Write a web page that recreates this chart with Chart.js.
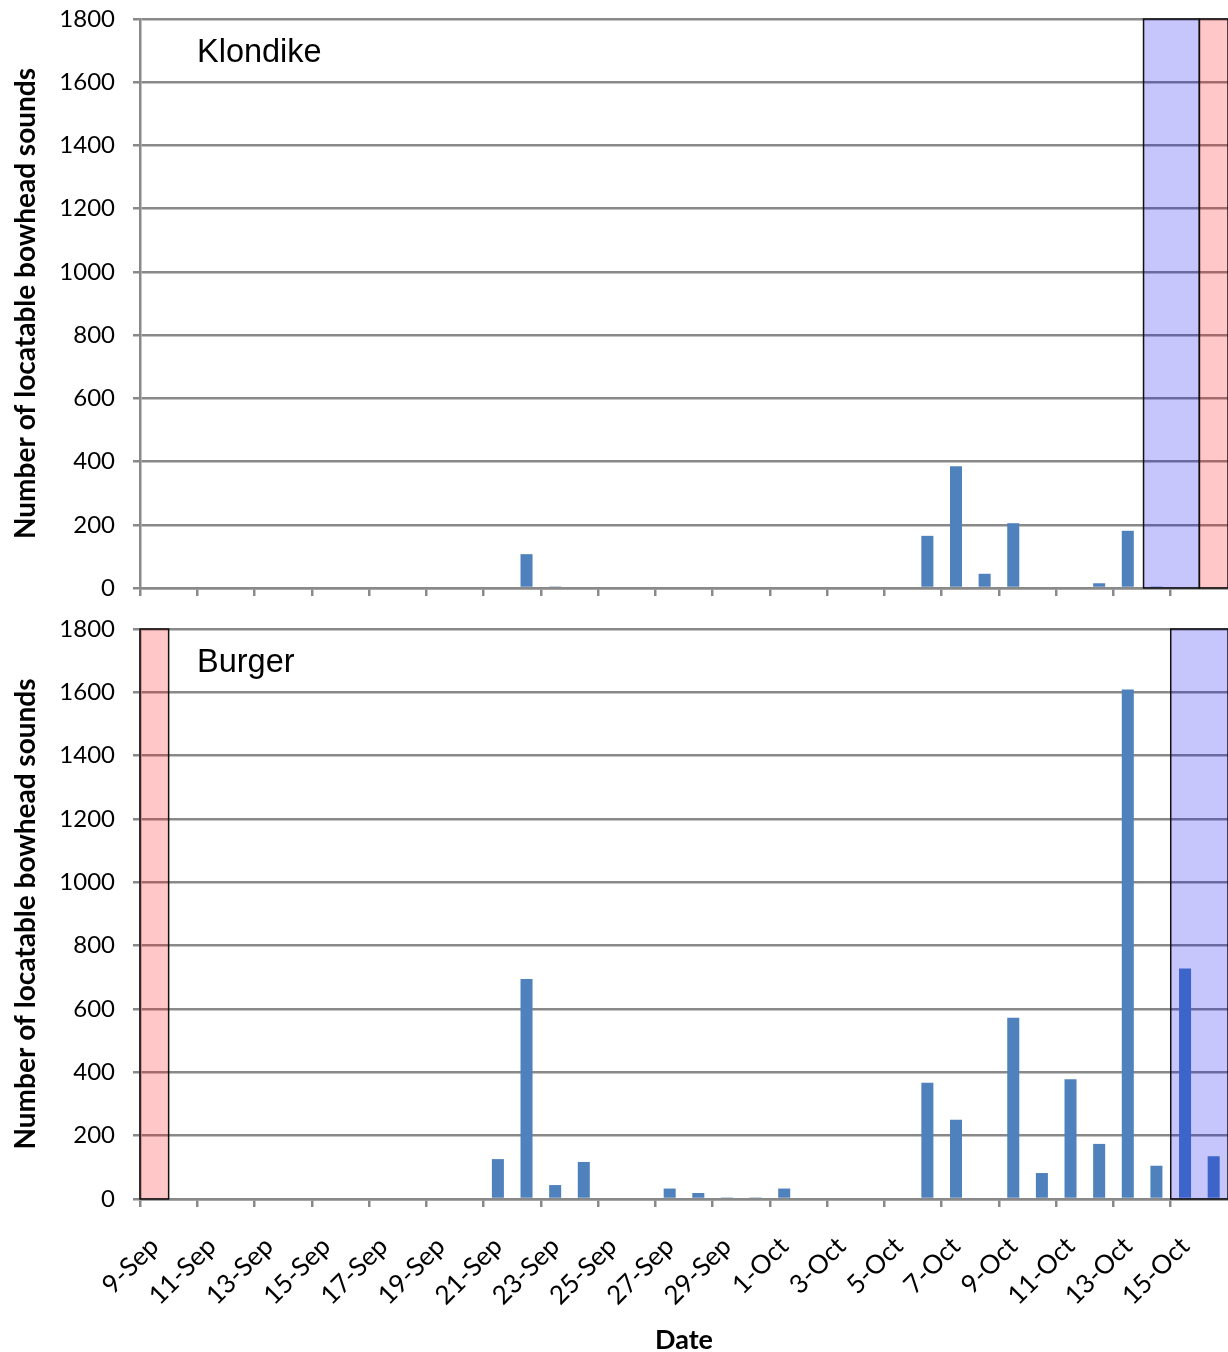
<!DOCTYPE html>
<html>
<head>
<meta charset="utf-8">
<title>Locatable bowhead sounds</title>
<script src="https://cdn.jsdelivr.net/npm/chart.js@4.4.0/dist/chart.umd.min.js"></script>
<style>
  html, body { margin: 0; padding: 0; background: #fff; }
  body { width: 1228px; height: 1352px; position: relative; overflow: hidden; }
  .panel { position: absolute; left: 0; }
</style>
</head>
<body>
<div class="panel" style="top:0"><canvas id="klondike-chart" width="1228" height="600"></canvas></div>
<div class="panel" style="top:600px"><canvas id="burger-chart" width="1228" height="752"></canvas></div>
<script>
// Days on the x axis (one bar slot per day)
const dateLabels = [
  '9-Sep', '10-Sep', '11-Sep', '12-Sep', '13-Sep', '14-Sep', '15-Sep', '16-Sep',
  '17-Sep', '18-Sep', '19-Sep', '20-Sep', '21-Sep', '22-Sep', '23-Sep', '24-Sep',
  '25-Sep', '26-Sep', '27-Sep', '28-Sep', '29-Sep', '30-Sep', '1-Oct', '2-Oct',
  '3-Oct', '4-Oct', '5-Oct', '6-Oct', '7-Oct', '8-Oct', '9-Oct', '10-Oct',
  '11-Oct', '12-Oct', '13-Oct', '14-Oct', '15-Oct', '16-Oct'
];

// Daily counts
const klondikeCounts = [
  0, 0, 0, 0, 0, 0, 0, 0,
  0, 0, 0, 0, 0, 107, 5, 0,
  0, 0, 0, 0, 0, 0, 0, 0,
  0, 0, 0, 165, 385, 45, 205, 0,
  0, 15, 181, 5, 0, 0
];
const burgerCounts = [
  0, 0, 0, 0, 0, 0, 0, 0,
  0, 0, 0, 0, 126, 695, 44, 117,
  0, 0, 33, 19, 5, 5, 33, 0,
  0, 0, 0, 367, 250, 0, 572, 82,
  378, 174, 1609, 105, 728, 135
];

const yTickValues = [0, 200, 400, 600, 800, 1000, 1200, 1400, 1600, 1800];

// Shaded periods
const klondikeBlueDays = ['14-Oct', '15-Oct'];
const klondikeRedDays = ['16-Oct'];
const burgerRedDays = ['9-Sep'];
const burgerBlueDays = ['15-Oct', '16-Oct'];

const gridGray = '#898989';
const blueShade = 'rgba(0, 0, 246, 0.224)';
const redShade = 'rgba(255, 0, 0, 0.22)';
const fontFamily = 'Lato, "Open Sans", sans-serif';

// Shaded bands + station name inside the plot (one plugin per chart)
function shadePlugin(name, bands) {
  return {
    id: 'shade',
    afterDatasetsDraw(chart) {
      const { ctx, chartArea } = chart;
      const x = chart.scales.x;
      const h = chartArea.bottom - chartArea.top;
      ctx.save();
      bands.forEach(band => {
        const idx = band.days.map(d => dateLabels.indexOf(d));
        const left = x.getPixelForValue(Math.min(...idx) - 0.5 + band.lead);
        const right = x.getPixelForValue(Math.max(...idx) + 0.5);
        ctx.fillStyle = band.fill;
        ctx.fillRect(left, chartArea.top, right - left, h);
        ctx.strokeStyle = '#111';
        ctx.lineWidth = 1.5;
        ctx.strokeRect(left, chartArea.top, right - left, h);
      });
      ctx.font = '32.5px "Liberation Sans", Arial, sans-serif';
      ctx.fillStyle = '#000';
      ctx.textBaseline = 'alphabetic';
      ctx.fillText(name, chartArea.left + 57, chartArea.top + 43);
      ctx.restore();
    }
  };
}

function makeChart(canvasId, name, counts, bands, isBottom) {
  const ctx = document.getElementById(canvasId).getContext('2d');
  return new Chart(ctx, {
    type: 'bar',
    data: {
      labels: dateLabels,
      datasets: [{
        data: counts,
        backgroundColor: '#4f81bd',
        borderWidth: 0,
        barPercentage: 0.42,
        categoryPercentage: 1
      }]
    },
    options: {
      responsive: false,
      animation: false,
      layout: { padding: { top: isBottom ? 29 : 19, right: 0, bottom: 0, left: 0 } },
      plugins: {
        legend: { display: false },
        tooltip: { enabled: false }
      },
      scales: {
        x: {
          offset: true,
          grid: {
            offset: true,
            drawOnChartArea: false,
            drawTicks: true,
            tickLength: 8,
            lineWidth: 2.5,
            color: c => (c.index % 2 === 0 ? gridGray : 'rgba(0,0,0,0)')
          },
          border: { display: true, color: gridGray, width: 2.5 },
          ticks: {
            display: isBottom,
            autoSkip: false,
            minRotation: 45,
            maxRotation: 45,
            padding: 24,
            color: '#000',
            font: { family: fontFamily, size: 26 },
            callback: (v, i) => (i % 2 === 0 ? dateLabels[i] : '')
          },
          title: {
            display: isBottom,
            text: 'Date',
            color: '#000',
            font: { family: fontFamily, size: 27, weight: 'bold', lineHeight: 0.9 },
            padding: 0
          },
          afterFit: s => {
            s.height = isBottom ? 153 : 12;
            s.paddingLeft = 0;
            s.paddingRight = 0;
          }
        },
        y: {
          min: 0,
          max: 1800,
          afterBuildTicks: s => { s.ticks = yTickValues.map(value => ({ value })); },
          grid: { color: gridGray, lineWidth: 2.5, tickLength: 7, drawTicks: true },
          border: { display: true, color: gridGray, width: 2.5 },
          ticks: {
            padding: 18,
            color: '#000',
            font: { family: fontFamily, size: 24 },
            callback: v => String(v)
          },
          title: {
            display: true,
            text: 'Number of locatable bowhead sounds',
            color: '#000',
            font: { family: fontFamily, size: 28, weight: 'bold' },
            padding: { top: 9, bottom: 0 }
          },
          afterFit: s => {
            s.width = 140;
            s.paddingTop = 0;
            s.paddingBottom = 0;
          }
        }
      }
    },
    plugins: [shadePlugin(name, bands)]
  });
}

makeChart('klondike-chart', 'Klondike', klondikeCounts, [
  { days: klondikeBlueDays, fill: blueShade, lead: 0.05 },
  { days: klondikeRedDays, fill: redShade, lead: 0 }
], false);

makeChart('burger-chart', 'Burger', burgerCounts, [
  { days: burgerRedDays, fill: redShade, lead: 0 },
  { days: burgerBlueDays, fill: blueShade, lead: 0 }
], true);
</script>
</body>
</html>
